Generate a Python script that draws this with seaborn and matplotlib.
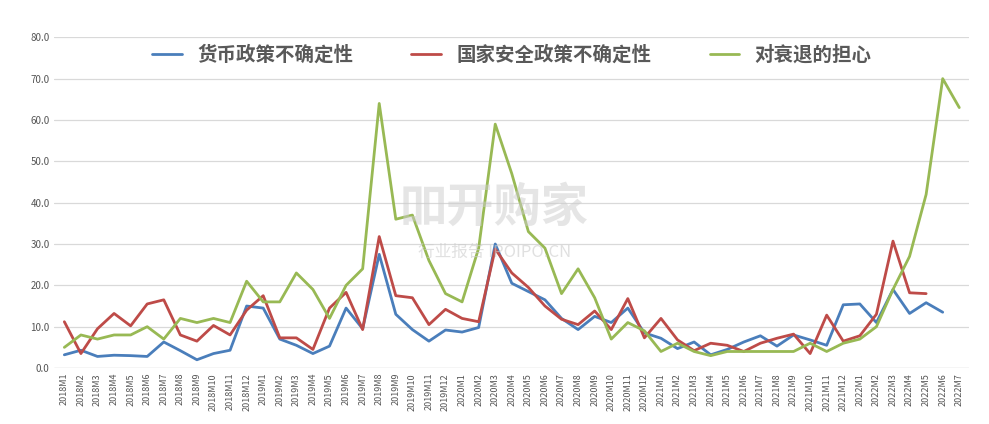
import numpy as np
import pandas as pd
import matplotlib
matplotlib.use("Agg")
import matplotlib.pyplot as plt
import seaborn as sns

months = [f"{y}M{m}" for y in range(2018, 2023) for m in range(1, 13)][:55]

monetary = [3.2, 4.3, 2.8, 3.1, 3.0, 2.8, 6.3, 4.2, 2.0, 3.5, 4.3, 15.0,
            14.5, 7.0, 5.5, 3.5, 5.3, 14.5, 9.5, 27.5, 13.0, 9.3, 6.5, 9.2,
            8.7, 9.8, 30.0, 20.5, 18.5, 16.5, 12.0, 9.3, 12.5, 11.0, 14.5, 8.5,
            7.2, 4.7, 6.3, 3.2, 4.5, 6.3, 7.8, 5.3, 8.0, 6.8, 5.5, 15.3,
            15.5, 11.0, 19.0, 13.2, 15.8, 13.5, np.nan]
security = [11.2, 3.5, 9.5, 13.2, 10.2, 15.5, 16.5, 8.0, 6.5, 10.3, 8.0, 14.0,
            17.5, 7.3, 7.3, 4.5, 14.5, 18.3, 9.3, 31.8, 17.5, 17.0, 10.5, 14.2,
            12.0, 11.2, 28.8, 23.0, 19.5, 15.0, 11.8, 10.5, 13.8, 9.3, 16.8, 7.3,
            12.0, 6.8, 4.2, 6.0, 5.5, 4.0, 6.0, 7.2, 8.2, 3.5, 12.8, 6.5,
            7.8, 13.0, 30.7, 18.2, 18.0, np.nan, np.nan]
recession = [5, 8, 7, 8, 8, 10, 7, 12, 11, 12, 11, 21,
             16, 16, 23, 19, 12, 20, 24, 64, 36, 37, 26, 18,
             16, 29, 59, 47, 33, 29, 18, 24, 17, 7, 11, 9,
             4, 6, 4, 3, 4, 4, 4, 4, 4, 6, 4, 6,
             7, 10, 19, 27, 42, 70, 63]

series_names = ["货币政策不确定性", "国家安全政策不确定性", "对衰退的担心"]
colors = ["#4a7ebb", "#be4b48", "#98b954"]

sns.set_style("white")
plt.rcParams["font.family"] = ["Noto Sans CJK SC", "DejaVu Sans"]

fig, ax = plt.subplots(figsize=(9.89, 4.24), dpi=100)
fig.subplots_adjust(left=0.055, right=0.98, top=0.912, bottom=0.132)

x = np.arange(len(months))
for name, vals, col in zip(series_names, [monetary, security, recession], colors):
    sns.lineplot(x=x, y=vals, ax=ax, color=col, lw=2, label=name)

ax.set_xlim(-0.6, len(months) - 0.4)
ax.set_ylim(0, 80)
ax.set_yticks(np.arange(0, 81, 10))
ax.set_yticklabels([f"{v:.1f}" for v in range(0, 81, 10)], fontsize=7, color="#555555")
ax.set_xticks(x)
ax.set_xticklabels(months, rotation=90, fontsize=6.5, color="#555555")
ax.tick_params(length=0)
ax.yaxis.grid(True, color="#d9d9d9", lw=0.9)
for s in ax.spines.values():
    s.set_visible(False)
ax.axhline(0, color="#d9d9d9", lw=0.9)

leg = ax.legend(loc="upper center", bbox_to_anchor=(0.5, 1.0), ncol=3, frameon=False,
                prop={"size": 14, "weight": "bold"}, handlelength=1.5,
                columnspacing=3, borderaxespad=0)
for t in leg.get_texts():
    t.set_color("#595959")

fig.text(0.5, 0.51, "吅开购家", fontsize=34, color="#cccccc", alpha=0.5,
         ha="center", va="center", fontweight="bold")
fig.text(0.5, 0.405, "行业报告 IPOIPO.CN", fontsize=12, color="#cccccc", alpha=0.6,
         ha="center", va="center")

plt.savefig("out.png", dpi=100)
